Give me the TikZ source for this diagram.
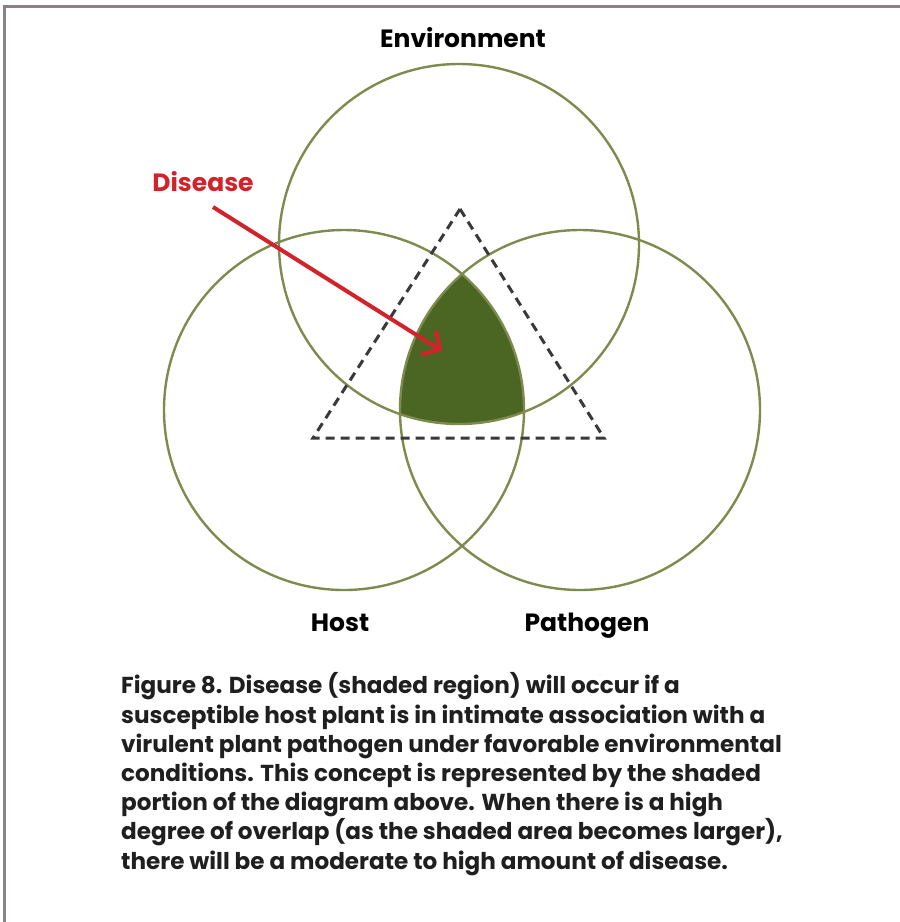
\documentclass[tikz,border=0pt]{standalone}
\usepackage{fontspec}
\setmainfont{Poppins}
\usetikzlibrary{arrows.meta}
\definecolor{framegray}{HTML}{8C8189}
\definecolor{ringgreen}{HTML}{7D8B4E}
\definecolor{shadegreen}{HTML}{4B6523}
\definecolor{disred}{HTML}{D2232A}
\definecolor{dashgray}{HTML}{3A3838}
\tikzset{
  ring/.style={draw=ringgreen, line width=2.4pt},
  tri/.style={draw=dashgray, line width=3pt, dash pattern=on 9pt off 6pt, line join=miter},
  lbl/.style={font=\fontsize{25}{30}\selectfont\bfseries, text=black, inner sep=0pt, anchor=base},
  captxt/.style={font=\fontsize{23.1}{29.2}\selectfont\bfseries, text=black!88, align=left, inner sep=0pt, anchor=base west},
}
\begin{document}
\begin{tikzpicture}[x=1pt,y=-1pt]
\useasboundingbox (0,0) rectangle (900,922);
% frame
\draw[framegray, line width=3pt] (4,922) -- (4,6) -- (900,6);
% circle centres
\coordinate (E) at (459,244);
\coordinate (H) at (344,410);
\coordinate (P) at (580,410);
% shaded intersection
\begin{scope}
  \clip (E) circle[radius=180];
  \clip (H) circle[radius=180];
  \fill[shadegreen] (P) circle[radius=180];
\end{scope}
% circles
\draw[ring] (E) circle[radius=180];
\draw[ring] (H) circle[radius=180];
\draw[ring] (P) circle[radius=180];
% triangle
\coordinate (T1) at (460,209);
\coordinate (T2) at (604,438);
\coordinate (T3) at (313,438);
\draw[tri] (T1) -- (T2) -- (T3) -- cycle;
% labels
\node[lbl] (env) at (463,47) {Environment};
\node[lbl, text=disred] (dis) at (203,191) {Disease};
\node[lbl] (host) at (340,631) {Host};
\node[lbl] (path) at (587,631) {Pathogen};
% arrow
\coordinate (a0) at (213,207);
\coordinate (a1) at (442,351);
\draw[disred, line width=4pt, -{Straight Barb[length=13pt,width=28pt]}] (a0) -- (a1);
% caption
\node[captxt] (caption) at (121,869) {Figure 8. Disease (shaded region) will occur if a\\
susceptible host plant is in intimate association with a\\
virulent plant pathogen under favorable environmental\\
conditions. This concept is represented by the shaded\\
portion of the diagram above. When there is a high\\
degree of overlap (as the shaded area becomes larger),\\
there will be a moderate to high amount of disease.};
\end{tikzpicture}
\end{document}
